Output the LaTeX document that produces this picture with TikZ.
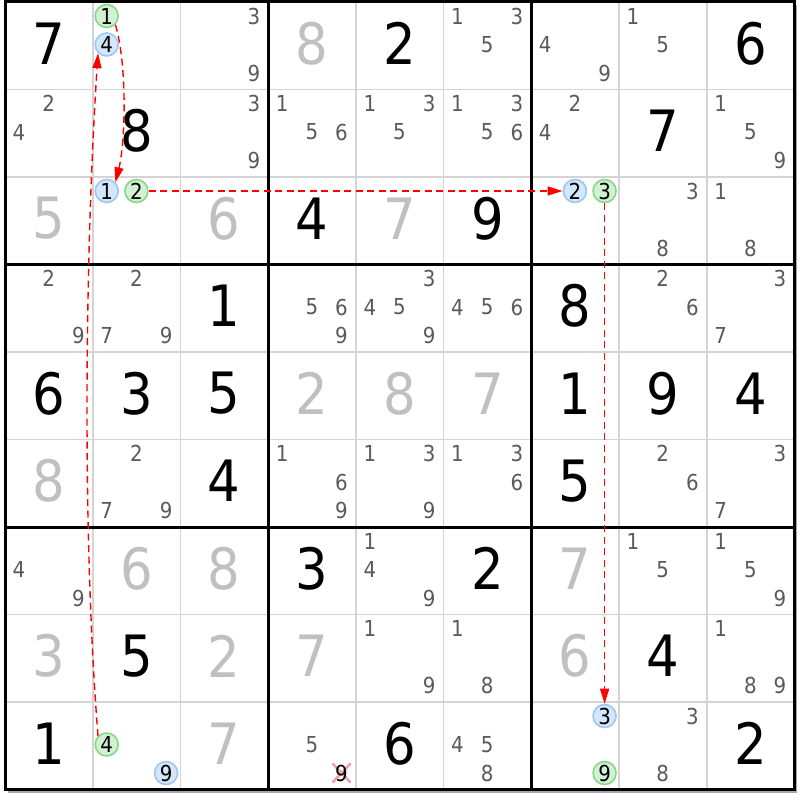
\documentclass[tikz,border=0pt]{standalone}
\usepackage{fontspec}
\setmainfont{DejaVu Sans Condensed}
\usetikzlibrary{arrows.meta}
\definecolor{solvedgray}{HTML}{C0C0C0}
\definecolor{candgray}{HTML}{5A5A5A}
\definecolor{gridthin}{HTML}{D4D4D4}
\definecolor{bluefill}{HTML}{D4E6FA}
\definecolor{bluedraw}{HTML}{9CC8F2}
\definecolor{greenfill}{HTML}{D2F0D2}
\definecolor{greendraw}{HTML}{88D888}
\definecolor{linkred}{HTML}{FF0000}
\definecolor{crosspink}{HTML}{F2A0A8}
\begin{document}
\begin{tikzpicture}[x=1pt,y=-1pt,
  given/.style={inner sep=0pt,font=\fontsize{57}{57}\selectfont,text=black},
  solved/.style={given,text=solvedgray},
  cand/.style={inner sep=0pt,font=\fontsize{22}{22}\selectfont,text=candgray},
  ringblue/.style={circle,minimum size=23pt,inner sep=0pt,draw=bluedraw,fill=bluefill,line width=1.6pt,font=\fontsize{22}{22}\selectfont,text=black},
  ringgreen/.style={ringblue,draw=greendraw,fill=greenfill},
  link/.style={draw=linkred,line width=1.4pt,dash pattern=on 7pt off 4.5pt,-{Triangle[length=15pt,width=9pt]}},
  cellline/.style={draw=gridthin,line width=1.8pt},
  boxline/.style={draw=black,line width=3pt},
  crossline/.style={draw=crosspink,line width=2.6pt,line cap=round}]
\useasboundingbox (0,0) rectangle (800,800);
\fill[white] (0,0) rectangle (800,800);
% shadow
\fill[black!35] (8,5) rectangle (797,792.5);
\fill[white] (5,2) rectangle (794.3,789.5);
% grid
\foreach \i in {1,2,4,5,7,8} {
  \draw[cellline] ({5+\i*87.7},2) -- ({5+\i*87.7},789.5);
  \draw[cellline] (5,{2+\i*87.5}) -- (794.3,{2+\i*87.5});
}
\foreach \i in {3,6} {
  \draw[boxline] ({5+\i*87.7},2) -- ({5+\i*87.7},789.5);
  \draw[boxline] (5,{2+\i*87.5}) -- (794.3,{2+\i*87.5});
}
\draw[boxline] (5,2) rectangle (794.3,789.5);
% given digits
\foreach \r/\c/\d in {1/1/7,1/5/2,1/9/6,2/2/8,2/8/7,3/4/4,3/6/9,4/3/1,4/7/8,
  5/1/6,5/2/3,5/3/5,5/7/1,5/8/9,5/9/4,6/3/4,6/7/5,7/4/3,7/6/2,8/2/5,8/8/4,
  9/1/1,9/5/6,9/9/2}
  \node[given] (n\r\c) at ({5+(\c-0.5)*87.7},{2+(\r-1)*87.5+41.5}) {\d};
% solved digits
\foreach \r/\c/\d in {1/4/8,3/1/5,3/3/6,3/5/7,5/4/2,5/5/8,5/6/7,6/1/8,
  7/2/6,7/3/8,7/7/7,8/1/3,8/3/2,8/4/7,8/7/6,9/3/7}
  \node[solved] (n\r\c) at ({5+(\c-0.5)*87.7},{2+(\r-1)*87.5+41.5}) {\d};
% candidates
\foreach \r/\c/\ds in {1/3/{3,9},1/6/{1,3,5},1/7/{4,9},1/8/{1,5},
  2/1/{2,4},2/3/{3,9},2/4/{1,5,6},2/5/{1,3,5},2/6/{1,3,5,6},2/7/{2,4},2/9/{1,5,9},
  3/8/{3,8},3/9/{1,8},
  4/1/{2,9},4/2/{2,7,9},4/4/{5,6,9},4/5/{3,4,5,9},4/6/{4,5,6},4/8/{2,6},4/9/{3,7},
  6/2/{2,7,9},6/4/{1,6,9},6/5/{1,3,9},6/6/{1,3,6},6/8/{2,6},6/9/{3,7},
  7/1/{4,9},7/5/{1,4,9},7/8/{1,5},7/9/{1,5,9},
  8/5/{1,9},8/6/{1,8},8/9/{1,8,9},
  9/4/{5},9/6/{4,5,8},9/8/{3,8}} {
  \foreach \d in \ds {
    \node[cand] (k\r\c\d) at ({5+(\c-1)*87.7+14+29.7*mod(\d-1,3)},{2+(\r-1)*87.5+14+28.5*floor((\d-0.5)/3)}) {\d};
  }
}
% eliminated candidate
\coordinate (x949) at ({5+3*87.7+14+29.7*2},{2+8*87.5+14+28.5*2});
\draw[crossline] ([shift={(-8.5,-9)}]x949) -- ([shift={(8.5,9)}]x949);
\draw[crossline] ([shift={(8.5,-9)}]x949) -- ([shift={(-8.5,9)}]x949);
\node[cand,text=black] (k949) at (x949) {9};
% ringed candidates
\foreach \nm/\r/\c/\d/\sty in {g1/1/2/1/ringgreen,b4/1/2/4/ringblue,
  b1/3/2/1/ringblue,g2/3/2/2/ringgreen,b2/3/7/2/ringblue,g3/3/7/3/ringgreen,
  b3/9/7/3/ringblue,g9/9/7/9/ringgreen,g4/9/2/4/ringgreen,b9/9/2/9/ringblue}
  \node[\sty] (\nm) at ({5+(\c-1)*87.7+14+29.7*mod(\d-1,3)},{2+(\r-1)*87.5+14+28.5*floor((\d-0.5)/3)}) {\d};
% links
\draw[link] (g1.south east) .. controls +(12,40) and +(10,-40) .. (b1.north east);
\draw[link] (g2) -- (b2);
\draw[link] (g3) -- (b3);
\draw[link] (g4.north west) .. controls +(-16,-200) and +(-13,200) .. (b4.south west);
\end{tikzpicture}
\end{document}
